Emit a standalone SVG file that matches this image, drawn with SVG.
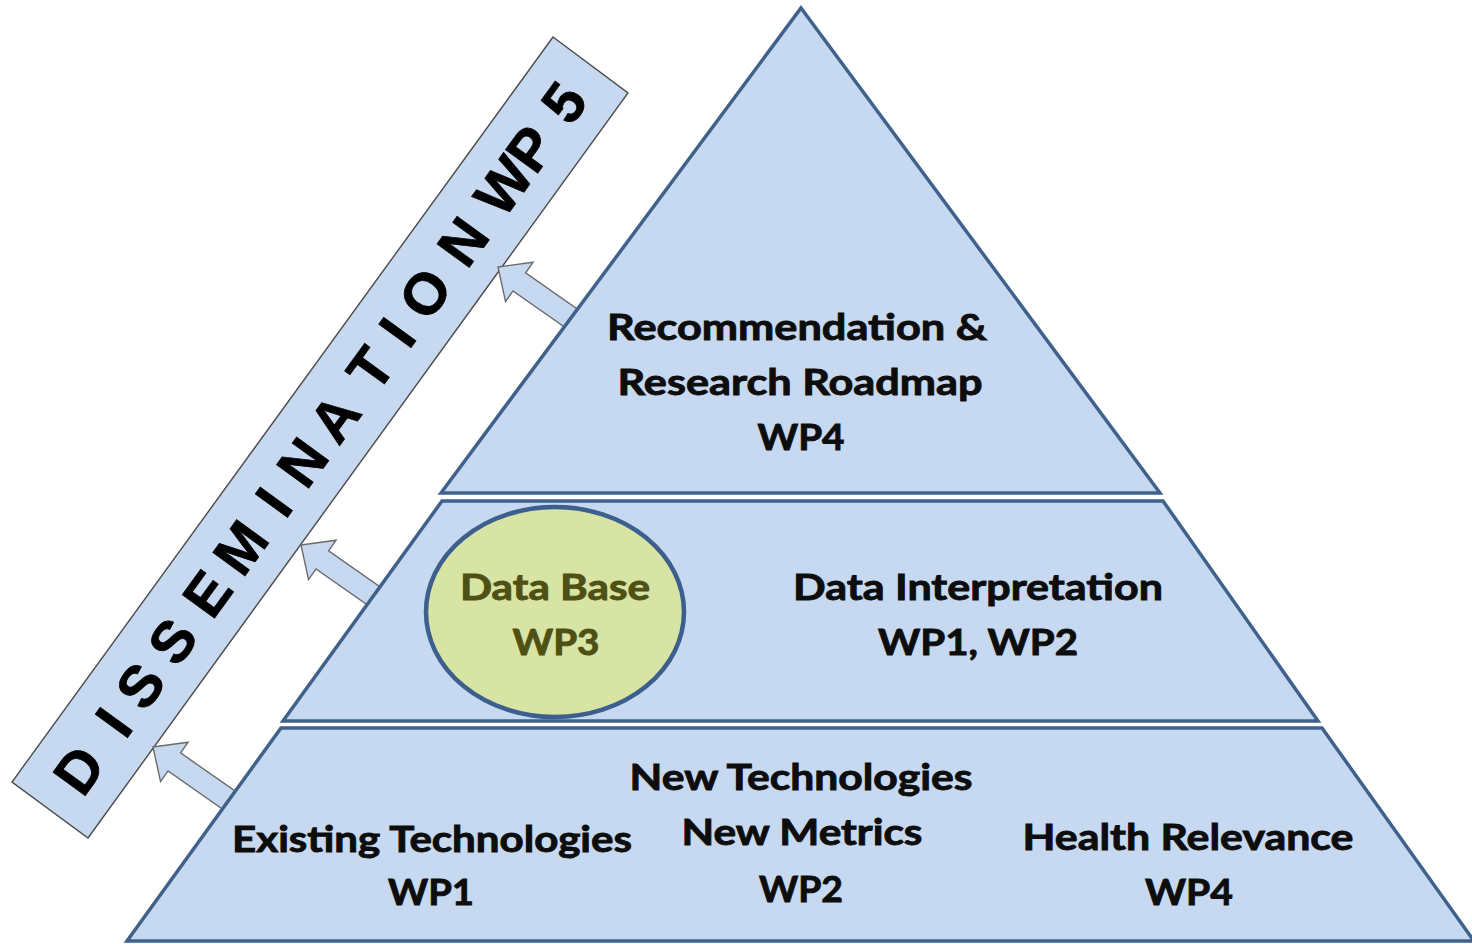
<svg xmlns="http://www.w3.org/2000/svg" width="1472" height="944" viewBox="0 0 1472 944">
<defs>
<style>
.tier{fill:#c6d9f0;stroke:#40618c;stroke-width:3.5;stroke-linejoin:miter}
.lbl{font-family:Lato,"Open Sans","Liberation Sans",sans-serif;font-weight:bold;font-size:37px;fill:#0d0d0d;stroke:#0d0d0d;stroke-width:0.9;text-anchor:middle}
.olive{fill:#4f5014;stroke:#4f5014}
.arrow{fill:#c6d9f0;stroke:#6b6b6b;stroke-width:1.4;stroke-linejoin:miter}
.banner{fill:#c6d9f0;stroke:#4a4a4a;stroke-width:1.4}
.btxt{font-family:"Liberation Sans",Arial,sans-serif;font-weight:bold;font-size:58px;fill:#000;stroke:#000;stroke-width:0.8;text-anchor:middle}
</style>
<path id="arr" d="M0,0 L26,-24 L26,-11 L92,-11 L92,11 L26,11 L26,24 Z"/>
</defs>
<rect width="1472" height="944" fill="#ffffff"/>

<g id="dissemination">
<polygon class="banner" points="553,37 628,93 88,838 12,782"/>
<text class="btxt" transform="translate(320,437) rotate(-54)" y="21" x="-411 -352 -307 -252 -193 -136 -80 -31 24 85 130 178 242 311 357 414">DISSEMINATIONWP5</text>
</g>

<g id="connectors">
<use href="#arr" class="arrow" transform="translate(498,267) rotate(35)"/>
<use href="#arr" class="arrow" transform="translate(301,545) rotate(35)"/>
<use href="#arr" class="arrow" transform="translate(153,747) rotate(35)"/>
</g>

<g id="tier-top">
<path class="tier" d="M801,8 L1160,493 L441,493 Z"/>
<text class="lbl" x="797" y="340" textLength="380" lengthAdjust="spacingAndGlyphs">Recommendation &amp;</text>
<text class="lbl" x="800" y="395" textLength="365" lengthAdjust="spacingAndGlyphs">Research Roadmap</text>
<text class="lbl" x="801" y="450" textLength="87" lengthAdjust="spacingAndGlyphs">WP4</text>
</g>

<g id="tier-middle">
<path class="tier" d="M442,501 L1163,501 L1318,721 L283,721 Z"/>
<text class="lbl" x="978" y="600" textLength="370" lengthAdjust="spacingAndGlyphs">Data Interpretation</text>
<text class="lbl" x="978" y="655" textLength="200" lengthAdjust="spacingAndGlyphs">WP1, WP2</text>
</g>

<g id="database">
<ellipse cx="555" cy="612" rx="129" ry="105" fill="#d7e4a4" stroke="#3c5f8e" stroke-width="4.5"/>
<text class="lbl olive" x="555" y="600" textLength="190" lengthAdjust="spacingAndGlyphs">Data Base</text>
<text class="lbl olive" x="556" y="655" textLength="87" lengthAdjust="spacingAndGlyphs">WP3</text>
</g>

<g id="tier-bottom">
<path class="tier" d="M281,728 L1322,728 L1474,941 L127,941 Z"/>
<text class="lbl" x="432" y="852" textLength="400" lengthAdjust="spacingAndGlyphs">Existing Technologies</text>
<text class="lbl" x="431" y="905" textLength="86" lengthAdjust="spacingAndGlyphs">WP1</text>
<text class="lbl" x="801" y="790" textLength="343" lengthAdjust="spacingAndGlyphs">New Technologies</text>
<text class="lbl" x="802" y="845" textLength="241" lengthAdjust="spacingAndGlyphs">New Metrics</text>
<text class="lbl" x="801" y="902" textLength="84" lengthAdjust="spacingAndGlyphs">WP2</text>
<text class="lbl" x="1188" y="850" textLength="331" lengthAdjust="spacingAndGlyphs">Health Relevance</text>
<text class="lbl" x="1189" y="905" textLength="88" lengthAdjust="spacingAndGlyphs">WP4</text>
</g>
</svg>
